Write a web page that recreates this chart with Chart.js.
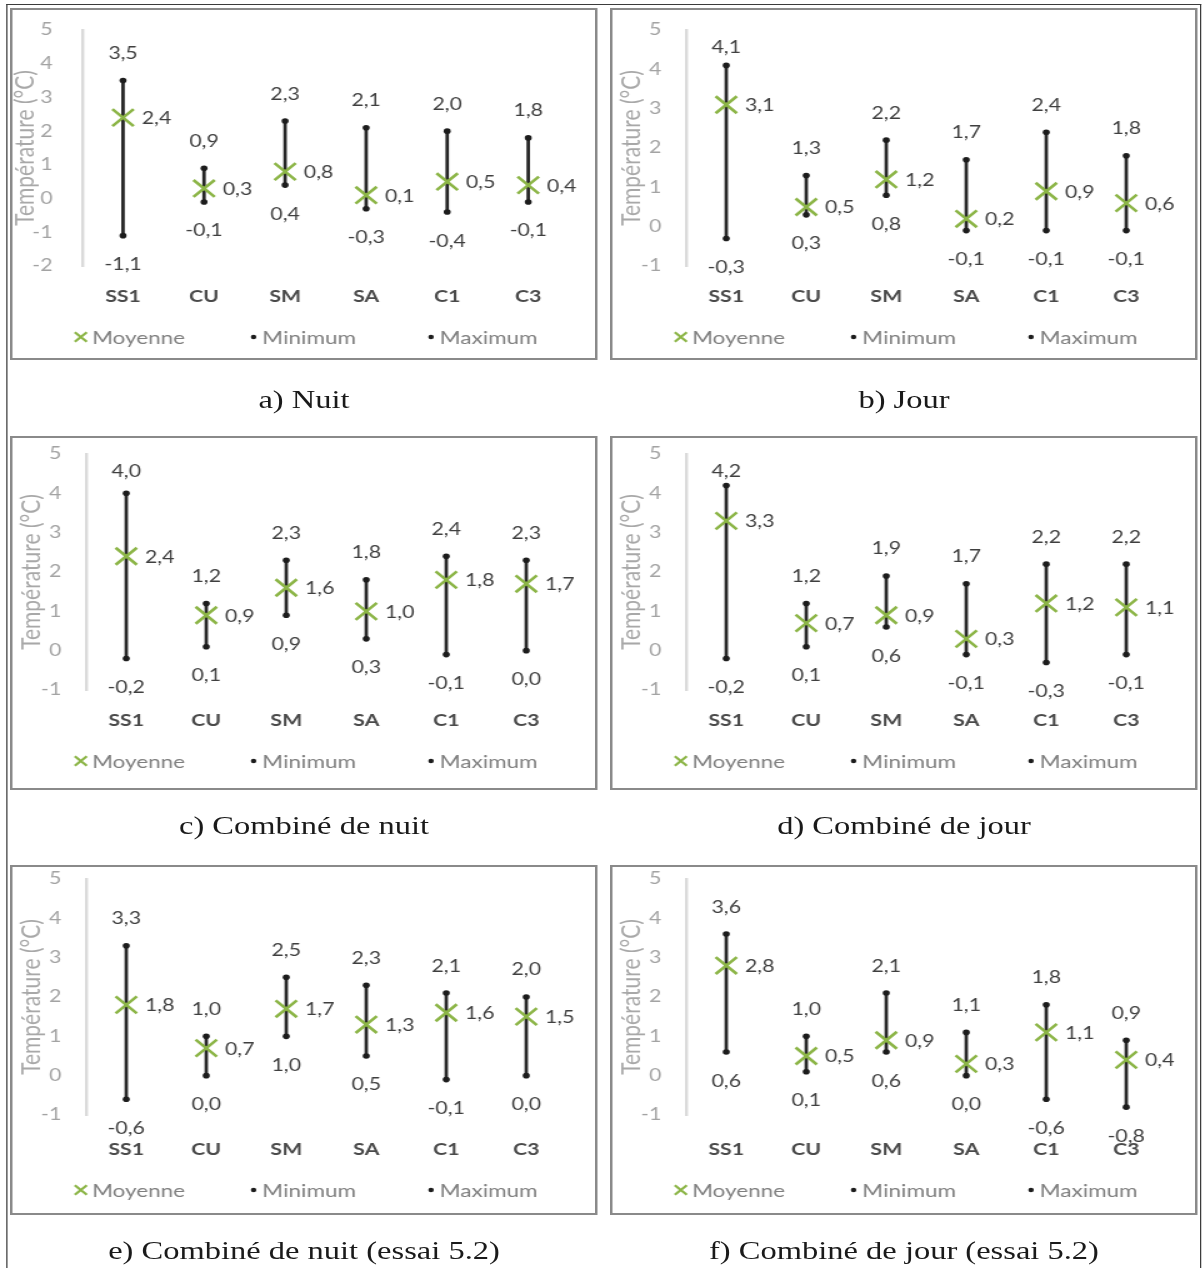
<!DOCTYPE html>
<html>
<head>
<meta charset="utf-8">
<script src="https://cdn.jsdelivr.net/npm/chart.js@4.4.1/dist/chart.umd.min.js"></script>
<style>
html,body{margin:0;padding:0;background:#fff;}
body{width:1202px;height:1268px;overflow:hidden;position:relative;}
#wrap{position:absolute;left:0;top:0;width:961.6px;height:1268px;transform:scaleX(1.25);transform-origin:0 0;}
.box{position:absolute;border:2px solid #8a8a8a;box-sizing:border-box;background:#fff;width:470.4px;}
.frame{position:absolute;background:#3c3c3c;}
canvas{position:absolute;}
.cap{position:absolute;width:470.4px;text-align:center;font-family:"Liberation Serif","Times New Roman",serif;font-size:26px;line-height:30px;color:#1a1a1a;}
</style>
</head>
<body>
<div id="wrap">
  <div class="frame" style="left:5.2px;top:3.5px;width:955.6px;height:1.5px;"></div>
  <div class="frame" style="left:5.2px;top:3.5px;width:1.2px;height:1265px;"></div>
  <div class="frame" style="left:959.6px;top:3.5px;width:1.2px;height:1265px;"></div>

  <div class="box" style="left:8px;top:8px;height:352px;"></div>
  <div class="box" style="left:488px;top:8px;height:352px;"></div>
  <div class="box" style="left:8px;top:436px;height:354px;"></div>
  <div class="box" style="left:488px;top:436px;height:354px;"></div>
  <div class="box" style="left:8px;top:865px;height:350px;"></div>
  <div class="box" style="left:488px;top:865px;height:350px;"></div>

  <canvas id="cA" width="467" height="345" style="left:9.6px;top:10px;"></canvas>
  <canvas id="cB" width="467" height="345" style="left:489.6px;top:10px;"></canvas>
  <canvas id="cC" width="467" height="345" style="left:9.6px;top:434px;"></canvas>
  <canvas id="cD" width="467" height="345" style="left:489.6px;top:434px;"></canvas>
  <canvas id="cE" width="467" height="345" style="left:9.6px;top:859px;"></canvas>
  <canvas id="cF" width="467" height="345" style="left:489.6px;top:859px;"></canvas>

  <div class="cap" id="tA" style="left:8px;top:385px;"></div>
  <div class="cap" id="tB" style="left:488px;top:385px;"></div>
  <div class="cap" id="tC" style="left:8px;top:811px;"></div>
  <div class="cap" id="tD" style="left:488px;top:811px;"></div>
  <div class="cap" id="tE" style="left:8px;top:1236px;"></div>
  <div class="cap" id="tF" style="left:488px;top:1236px;"></div>
</div>
<script>
// ---- data ----
const categories = ['SS1', 'CU', 'SM', 'SA', 'C1', 'C3'];
const seriesNames = ['Moyenne', 'Minimum', 'Maximum'];
const yAxisTitle = 'Température (°C)';

// a) Nuit
const nuitMoyenne = [2.4, 0.3, 0.8, 0.1, 0.5, 0.4];
const nuitMinimum = [-1.1, -0.1, 0.4, -0.3, -0.4, -0.1];
const nuitMaximum = [3.5, 0.9, 2.3, 2.1, 2.0, 1.8];
// b) Jour
const jourMoyenne = [3.1, 0.5, 1.2, 0.2, 0.9, 0.6];
const jourMinimum = [-0.3, 0.3, 0.8, -0.1, -0.1, -0.1];
const jourMaximum = [4.1, 1.3, 2.2, 1.7, 2.4, 1.8];
// c) Combiné de nuit
const combNuitMoyenne = [2.4, 0.9, 1.6, 1.0, 1.8, 1.7];
const combNuitMinimum = [-0.2, 0.1, 0.9, 0.3, -0.1, 0.0];
const combNuitMaximum = [4.0, 1.2, 2.3, 1.8, 2.4, 2.3];
// d) Combiné de jour
const combJourMoyenne = [3.3, 0.7, 0.9, 0.3, 1.2, 1.1];
const combJourMinimum = [-0.2, 0.1, 0.6, -0.1, -0.3, -0.1];
const combJourMaximum = [4.2, 1.2, 1.9, 1.7, 2.2, 2.2];
// e) Combiné de nuit (essai 5.2)
const essaiNuitMoyenne = [1.8, 0.7, 1.7, 1.3, 1.6, 1.5];
const essaiNuitMinimum = [-0.6, 0.0, 1.0, 0.5, -0.1, 0.0];
const essaiNuitMaximum = [3.3, 1.0, 2.5, 2.3, 2.1, 2.0];
// f) Combiné de jour (essai 5.2)
const essaiJourMoyenne = [2.8, 0.5, 0.9, 0.3, 1.1, 0.4];
const essaiJourMinimum = [0.6, 0.1, 0.6, 0.0, -0.6, -0.8];
const essaiJourMaximum = [3.6, 1.0, 2.1, 1.1, 1.8, 0.9];

const yMinNuit = -2;
const yMinOther = -1;
const yMax = 5;

const panelTitles = ['a) Nuit', 'b) Jour', 'c) Combiné de nuit', 'd) Combiné de jour',
  'e) Combiné de nuit (essai 5.2)', 'f) Combiné de jour (essai 5.2)'];

// ---- rendering ----
const GREEN = '#8cb547';
const DARK = '#1c1c1c';
const FONT = 'Lato, "Open Sans", sans-serif';
Chart.defaults.font.family = FONT;

function fmt(v) { return v.toFixed(1).replace('.', ','); }

const valueLabels = {
  id: 'valueLabels',
  afterDatasetsDraw(chart) {
    const ctx = chart.ctx;
    const top = chart.chartArea.top;
    ctx.save();
    ctx.font = '17px ' + FONT;
    ctx.fillStyle = '#3f3f3f';
    ctx.textBaseline = 'middle';
    chart.data.datasets.forEach((ds, di) => {
      if (!ds.labelPos) return;
      const meta = chart.getDatasetMeta(di);
      meta.data.forEach((el, i) => {
        const txt = fmt(ds.data[i]);
        if (ds.labelPos === 'right') {
          ctx.textAlign = 'left';
          ctx.fillText(txt, el.x + 15, el.y + 1);
        } else if (ds.labelPos === 'top') {
          ctx.textAlign = 'center';
          ctx.fillText(txt, el.x, Math.max(el.y - 27, top + 18));
        } else {
          ctx.textAlign = 'center';
          ctx.fillText(txt, el.x, el.y + 29);
        }
      });
    });
    ctx.restore();
  }
};

const bottomLegend = {
  id: 'bottomLegend',
  afterDraw(chart) {
    const ctx = chart.ctx;
    const y = chart.chartArea.bottom + 71 + (chart.options.extraGap || 0);
    ctx.save();
    ctx.font = '18px ' + FONT;
    ctx.textBaseline = 'middle';
    ctx.textAlign = 'left';
    chart.data.datasets.forEach(ds => {
      if (ds.legendAt === undefined) return;
      const mx = chart.width * ds.legendAt;
      ctx.strokeStyle = ds.borderColor;
      ctx.fillStyle = ds.backgroundColor;
      ctx.lineWidth = ds.legendMarker.borderWidth;
      Chart.helpers.drawPoint(ctx, ds.legendMarker, mx, y);
      ctx.fillStyle = '#7f7f7f';
      ctx.fillText(ds.label, mx + ds.legendGap, y + 1);
    });
    ctx.restore();
  }
};

function makeChart(canvasId, titleId, title, mean, mins, maxs, yMin, extraGap, tickPad) {
  document.getElementById(titleId).textContent = title;
  const ranges = mins.map((v, i) => [v, maxs[i]]);
  const gap = extraGap || 0;
  const wide = tickPad > 20;
  const yWidth = wide ? 56 : 59;
  return new Chart(document.getElementById(canvasId), {
    type: 'bar',
    data: {
      labels: categories,
      datasets: [
        {
          type: 'line', label: seriesNames[0], data: mean, showLine: false,
          pointStyle: 'crossRot', pointRadius: 12, pointBorderWidth: 2.6,
          borderColor: GREEN, backgroundColor: GREEN, order: 0,
          labelPos: 'right', legendAt: 0.117, legendGap: 9,
          legendMarker: { pointStyle: 'crossRot', radius: 6.8, borderWidth: 2.2, rotation: 0 }
        },
        {
          type: 'line', label: seriesNames[1], data: mins, showLine: false,
          pointStyle: 'circle', pointRadius: 2.8, pointBorderWidth: 0,
          borderColor: DARK, backgroundColor: DARK, order: 1,
          labelPos: 'bottom', legendAt: 0.413, legendGap: 7,
          legendMarker: { pointStyle: 'circle', radius: 2.2, borderWidth: 0, rotation: 0 }
        },
        {
          type: 'line', label: seriesNames[2], data: maxs, showLine: false,
          pointStyle: 'circle', pointRadius: 2.8, pointBorderWidth: 0,
          borderColor: DARK, backgroundColor: DARK, order: 1,
          labelPos: 'top', legendAt: 0.717, legendGap: 7,
          legendMarker: { pointStyle: 'circle', radius: 2.2, borderWidth: 0, rotation: 0 }
        },
        {
          type: 'bar', label: 'Étendue', data: ranges,
          backgroundColor: '#262626', borderWidth: 0, barThickness: 2.1, order: 5
        }
      ]
    },
    options: {
      responsive: false,
      animation: false,
      events: [],
      extraGap: gap,
      layout: { padding: { top: 20, right: wide ? 22 : 24, bottom: 49 - gap, left: 0 } },
      plugins: { legend: { display: false }, tooltip: { enabled: false } },
      scales: {
        x: {
          type: 'category',
          offset: true,
          grid: { display: false, drawTicks: false },
          border: { display: false },
          ticks: { color: '#4a4a4a', font: { size: 17, weight: 'bold' }, padding: 20 + gap, maxRotation: 0 },
          afterFit: s => { s.height = 40 + gap; }
        },
        y: {
          min: yMin, max: yMax,
          grid: { display: false, drawTicks: false },
          border: { display: true, color: '#dadada', width: 2.4 },
          ticks: { stepSize: 1, color: '#a3a3a3', font: { size: 17 }, padding: tickPad },
          title: {
            display: true, text: yAxisTitle, color: '#a8a8a8',
            font: { size: 21, lineHeight: 1 }, padding: { top: wide ? 0 : 4.7, bottom: 0 }
          },
          afterFit: s => { s.width = yWidth; s.paddingTop = 0; s.paddingBottom = 0; }
        }
      }
    },
    plugins: [valueLabels, bottomLegend]
  });
}

makeChart('cA', 'tA', panelTitles[0], nuitMoyenne, nuitMinimum, nuitMaximum, yMinNuit, 0, 24);
makeChart('cB', 'tB', panelTitles[1], jourMoyenne, jourMinimum, jourMaximum, yMinOther, 0, 20);
makeChart('cC', 'tC', panelTitles[2], combNuitMoyenne, combNuitMinimum, combNuitMaximum, yMinOther, 0, 20);
makeChart('cD', 'tD', panelTitles[3], combJourMoyenne, combJourMinimum, combJourMaximum, yMinOther, 0, 20);
makeChart('cE', 'tE', panelTitles[4], essaiNuitMoyenne, essaiNuitMinimum, essaiNuitMaximum, yMinOther, 4, 20);
makeChart('cF', 'tF', panelTitles[5], essaiJourMoyenne, essaiJourMinimum, essaiJourMaximum, yMinOther, 4, 20);
</script>
</body>
</html>
